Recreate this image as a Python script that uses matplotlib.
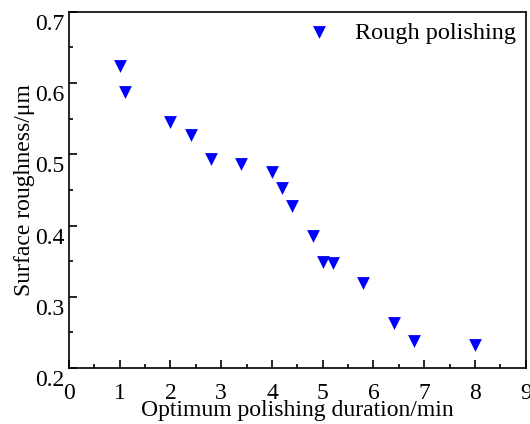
import numpy as np
import matplotlib
matplotlib.use("Agg")
import matplotlib.pyplot as plt
import matplotlib.transforms as mtransforms
from matplotlib.ticker import MultipleLocator

# polishing duration (min) vs surface roughness (um)
duration = [1.0, 1.1, 2.0, 2.4, 2.8, 3.4, 4.0, 4.2, 4.4, 4.8, 5.0, 5.2, 5.8, 6.4, 6.8, 8.0]
roughness = [0.624, 0.587, 0.546, 0.527, 0.493, 0.486, 0.475, 0.453, 0.427,
             0.386, 0.349, 0.348, 0.320, 0.263, 0.238, 0.232]
yticks = [0.2, 0.3, 0.4, 0.5, 0.6, 0.7]

plt.rcParams['font.family'] = ['Liberation Serif', 'DejaVu Serif']

fig = plt.figure(figsize=(5.3, 4.24), dpi=100)
ax = fig.add_axes([0.130, 0.132, 0.862, 0.840])

ax.scatter(duration, roughness, marker='v', s=85, color='#0000ff',
           linewidths=0, label='Rough polishing')

ax.set_xlim(0, 9)
ax.set_ylim(0.2, 0.7)
ax.xaxis.set_major_locator(MultipleLocator(1))
ax.xaxis.set_minor_locator(MultipleLocator(0.5))
ax.set_yticks(yticks)
ax.set_yticklabels(['%.1f' % v for v in yticks])
ax.yaxis.set_minor_locator(MultipleLocator(0.05))
ax.tick_params(which='both', direction='in', labelsize=17, width=1.2)
ax.tick_params(which='major', length=6)
ax.tick_params(which='minor', length=3)
ax.tick_params(axis='y', pad=3)
ax.tick_params(axis='x', pad=11)

# y tick labels sit a little below their ticks in the original
offset = mtransforms.ScaledTranslation(0, -10 / 100, fig.dpi_scale_trans)
for lab in ax.get_yticklabels():
    lab.set_transform(lab.get_transform() + offset)

for sp in ax.spines.values():
    sp.set_linewidth(1.2)

ax.set_xlabel('Optimum polishing duration/min', fontsize=17, labelpad=-3)
ax.set_ylabel('Surface roughness/\u03bcm', fontsize=17, labelpad=0)

ax.legend(loc='upper right', frameon=False, fontsize=17.5, handletextpad=0.5,
          borderaxespad=0.0, scatterpoints=1)

fig.savefig('out.png', dpi=100)
